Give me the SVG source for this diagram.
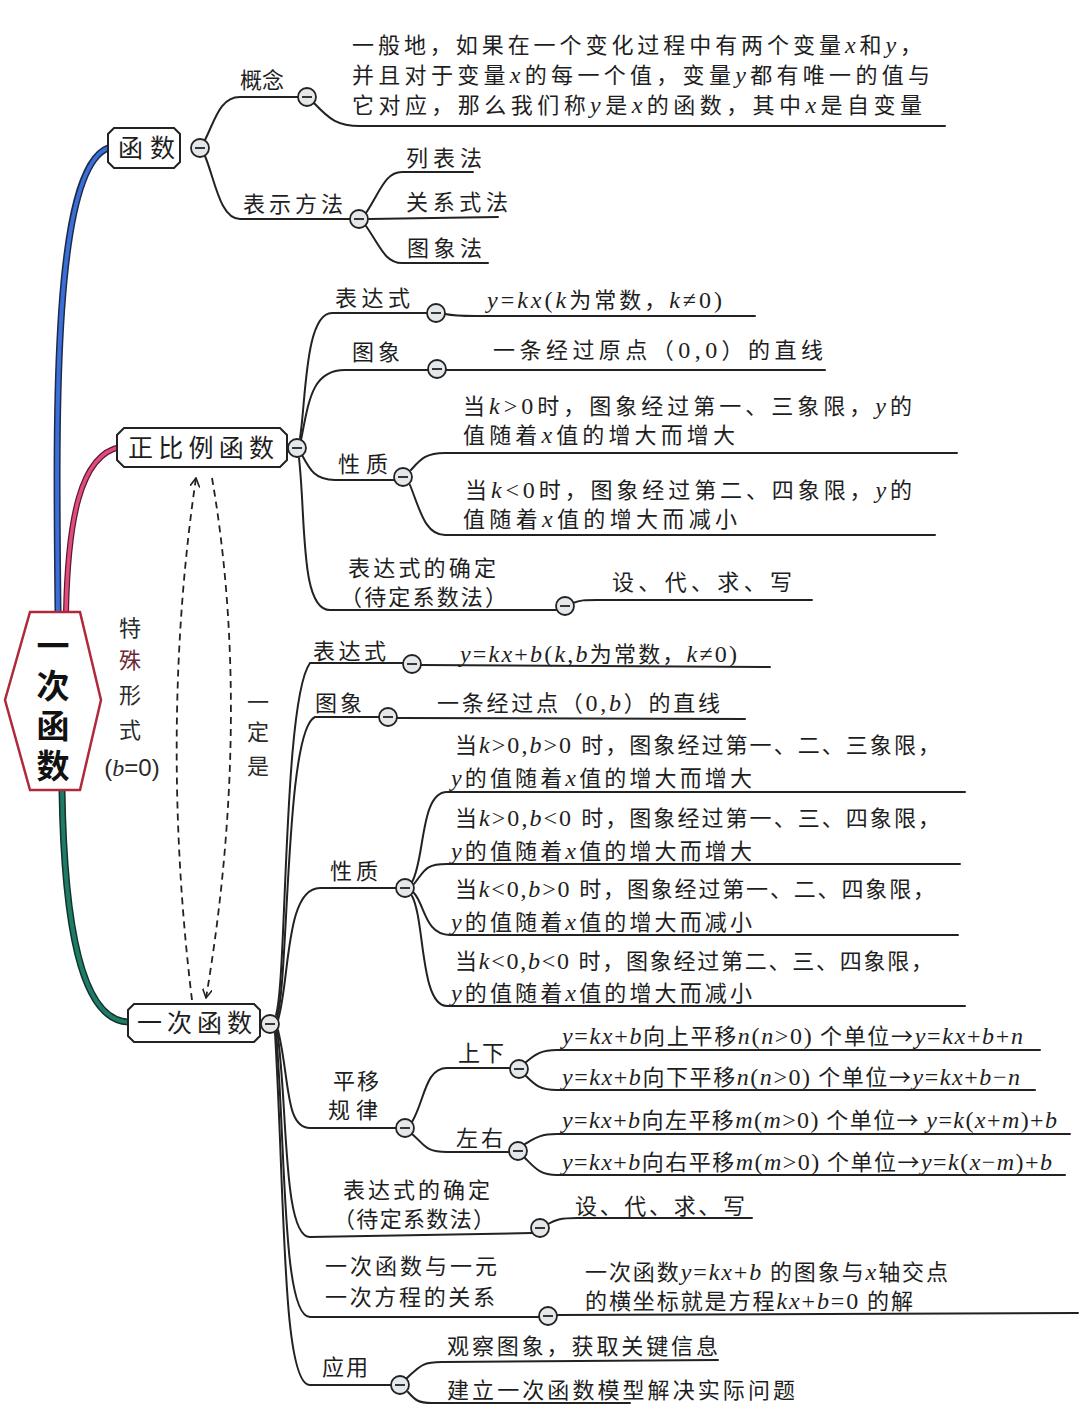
<svg xmlns="http://www.w3.org/2000/svg" width="1080" height="1407" viewBox="0 0 1080 1407">
<defs>
<style>
.t{font-family:"Noto Sans CJK SC","Noto Sans",sans-serif;font-size:22px;fill:#1e1e1e}
.n{font-family:"Noto Sans CJK SC","Noto Sans",sans-serif;font-size:25px;fill:#1e1e1e}
.i{font-family:"Liberation Serif",serif;font-style:italic;font-size:24px}
.r{font-family:"Liberation Serif",serif;font-size:24px}
.ln{fill:none;stroke:#222;stroke-width:2;stroke-linecap:round}
.box{fill:#fff;stroke:#222;stroke-width:2}
.cc{fill:#e4e8eb;stroke:#222;stroke-width:1.8}
.dash{fill:none;stroke:#222;stroke-width:1.8;stroke-dasharray:7 5}
</style>
<marker id="ah" viewBox="0 0 10 10" refX="9" refY="5" markerWidth="10" markerHeight="10" markerUnits="userSpaceOnUse" orient="auto">
<path d="M0,0 L9,5 L0,10" fill="none" stroke="#222" stroke-width="1.6"/>
</marker>
<g id="cmin"><circle class="cc" cx="0" cy="0" r="9"/><line x1="-5" y1="0" x2="5" y2="0" stroke="#222" stroke-width="1.8"/></g>
</defs>
<rect width="1080" height="1407" fill="#fff"/>

<g id="connectors">
<path d="M58,612 C56,420 52,170 108,148" fill="none" stroke="#1e2a4a" stroke-width="7"/>
<path d="M58,612 C56,420 52,170 108,148" fill="none" stroke="#3a6fd8" stroke-width="4"/>
<path d="M66,612 C68,520 80,455 120,447" fill="none" stroke="#5a1a30" stroke-width="6"/>
<path d="M66,612 C68,520 80,455 120,447" fill="none" stroke="#e24a82" stroke-width="3.5"/>
<path d="M62,790 C64,920 80,1020 128,1022" fill="none" stroke="#12332c" stroke-width="7"/>
<path d="M62,790 C64,920 80,1020 128,1022" fill="none" stroke="#1f7a66" stroke-width="4"/>

<path class="ln" d="M205,140 C215,120 220,97 240,97 L298,97"/>
<path class="ln" d="M314,103 C330,120 338,126 360,126 L945,126"/>
<path class="ln" d="M205,156 C215,180 220,219 240,219 L350,219"/>
<path class="ln" d="M366,213 C380,192 385,172 402,172 L473,172"/>
<path class="ln" d="M369,219 L498,217"/>
<path class="ln" d="M366,226 C380,246 385,263 402,263 L488,263"/>

<path class="ln" d="M300,438 C306,400 305,313 332,313 L427,313"/>
<path class="ln" d="M445,314 C455,316 460,316 475,316 L755,316"/>
<path class="ln" d="M301,440 C309,400 312,370 345,370 L428,370"/>
<path class="ln" d="M446,370 L825,370"/>
<path class="ln" d="M302,455 C310,470 315,480 335,480 L394,480"/>
<path class="ln" d="M411,470 C420,460 425,453 445,453 L957,453"/>
<path class="ln" d="M410,485 C420,510 425,535 445,535 L935,535"/>
<path class="ln" d="M299,458 C306,520 300,610 330,610 L556,610"/>
<path class="ln" d="M573,603 C580,600 585,600 597,600 L812,600"/>

<path class="ln" d="M276,1015 C287,980 283,700 310,663 L403,663"/>
<path class="ln" d="M421,665 L770,667"/>
<path class="ln" d="M277,1017 C289,980 285,730 315,717 L379,717"/>
<path class="ln" d="M397,718 L745,719"/>
<path class="ln" d="M278,1020 C290,980 285,888 320,888 L396,888"/>
<path class="ln" d="M412,882 C425,860 420,792 447,792 L965,792"/>
<path class="ln" d="M414,884 C425,870 425,864 447,864 L960,864"/>
<path class="ln" d="M414,893 C425,905 425,935 450,935 L958,935"/>
<path class="ln" d="M412,896 C425,920 420,1006 447,1006 L965,1006"/>
<path class="ln" d="M278,1030 C290,1080 285,1128 310,1128 L396,1128"/>
<path class="ln" d="M412,1122 C425,1100 425,1068 447,1068 L510,1068"/>
<path class="ln" d="M412,1134 C425,1145 425,1152 447,1152 L509,1152"/>
<path class="ln" d="M526,1062 C535,1055 540,1050 557,1050 L1040,1050"/>
<path class="ln" d="M526,1076 C535,1085 540,1090 557,1090 L1035,1090"/>
<path class="ln" d="M525,1144 C535,1138 540,1134 557,1134 L1070,1134"/>
<path class="ln" d="M525,1158 C535,1168 540,1175 557,1175 L1065,1175"/>
<path class="ln" d="M277,1030 C288,1100 282,1237 310,1237 L532,1233"/>
<path class="ln" d="M548,1224 C555,1220 560,1218 577,1218 L752,1218"/>
<path class="ln" d="M276,1032 C286,1150 282,1317 310,1317 L539,1317"/>
<path class="ln" d="M557,1315 L1078,1313"/>
<path class="ln" d="M275,1033 C285,1200 282,1385 310,1385 L391,1385"/>
<path class="ln" d="M407,1378 C420,1366 422,1362 442,1362 L718,1360"/>
<path class="ln" d="M408,1392 C415,1400 418,1403 432,1403 L630,1403"/>

<path class="dash" d="M192,1000 C170,820 172,640 196,478" marker-end="url(#ah)"/>
<path class="dash" d="M212,478 C240,640 236,820 206,998" marker-end="url(#ah)"/>
</g>

<g id="collapse">
<use href="#cmin" x="200" y="148"/>
<use href="#cmin" x="307" y="97"/>
<use href="#cmin" x="359" y="219"/>
<use href="#cmin" x="297" y="448"/>
<use href="#cmin" x="436" y="313"/>
<use href="#cmin" x="437" y="369"/>
<use href="#cmin" x="403" y="477"/>
<use href="#cmin" x="565" y="606"/>
<use href="#cmin" x="270" y="1024"/>
<use href="#cmin" x="412" y="664"/>
<use href="#cmin" x="388" y="717"/>
<use href="#cmin" x="405" y="888"/>
<use href="#cmin" x="405" y="1128"/>
<use href="#cmin" x="519" y="1069"/>
<use href="#cmin" x="518" y="1151"/>
<use href="#cmin" x="540" y="1228"/>
<use href="#cmin" x="548" y="1316"/>
<use href="#cmin" x="400" y="1385"/>
</g>

<g id="root">
<polygon points="30,612 80,612 101,700 80,790 30,790 5,700" fill="#fff" stroke="#b0283c" stroke-width="2.5"/>
<text x="53" y="629" writing-mode="tb" style="writing-mode:vertical-rl" font-family="'Noto Sans CJK SC',sans-serif" font-size="33" font-weight="bold" fill="#111" letter-spacing="7">一次函数</text>
</g>

<g id="n-hanshu">
<polygon class="box" points="114,128 174,128 180,134 180,162 174,168 114,168 108,162 108,134"/>
<text class="n" x="118" y="157" textLength="57">函数</text>
</g>
<g id="n-zhengbili">
<polygon class="box" points="124,428 280,428 287,435 287,460 280,467 124,467 117,460 117,435"/>
<text class="n" x="128" y="457" textLength="146">正比例函数</text>
</g>
<g id="n-yici">
<polygon class="box" points="134,1004 254,1004 260,1010 260,1036 254,1042 134,1042 128,1036 128,1010"/>
<text class="n" x="137" y="1032" textLength="115">一次函数</text>
</g>

<g id="labels-hanshu">
<text class="t" x="240" y="88">概念</text>
<text class="t" x="352" y="53" textLength="570">一般地，如果在一个变化过程中有两个变量<tspan class="i">x</tspan>和<tspan class="i">y</tspan>，</text>
<text class="t" x="352" y="83" textLength="578">并且对于变量<tspan class="i">x</tspan>的每一个值，变量<tspan class="i">y</tspan>都有唯一的值与</text>
<text class="t" x="352" y="113" textLength="570">它对应，那么我们称<tspan class="i">y</tspan>是<tspan class="i">x</tspan>的函数，其中<tspan class="i">x</tspan>是自变量</text>
<text class="t" x="243" y="212" textLength="100">表示方法</text>
<text class="t" x="406" y="166" textLength="76">列表法</text>
<text class="t" x="406" y="210" textLength="102">关系式法</text>
<text class="t" x="407" y="256" textLength="75">图象法</text>
</g>

<g id="labels-zhengbili">
<text class="t" x="335" y="306" textLength="75">表达式</text>
<text class="t" x="487" y="308" textLength="235"><tspan class="i">y</tspan><tspan class="r">=</tspan><tspan class="i">kx</tspan><tspan class="r">(</tspan><tspan class="i">k</tspan>为常数，<tspan class="i">k</tspan><tspan class="r">≠0)</tspan></text>
<text class="t" x="352" y="360" textLength="48">图象</text>
<text class="t" x="493" y="358" textLength="330">一条经过原点（<tspan class="r">0,0</tspan>）的直线</text>
<text class="t" x="463" y="414" textLength="449">当<tspan class="i">k</tspan><tspan class="r">&gt;0</tspan>时，图象经过第一、三象限，<tspan class="i">y</tspan>的</text>
<text class="t" x="463" y="443" textLength="272">值随着<tspan class="i">x</tspan>值的增大而增大</text>
<text class="t" x="338" y="472" textLength="50">性质</text>
<text class="t" x="465" y="498" textLength="447">当<tspan class="i">k</tspan><tspan class="r">&lt;0</tspan>时，图象经过第二、四象限，<tspan class="i">y</tspan>的</text>
<text class="t" x="463" y="527" textLength="274">值随着<tspan class="i">x</tspan>值的增大而减小</text>
<text class="t" x="348" y="576" textLength="148">表达式的确定</text>
<text class="t" x="340" y="605" textLength="167">（待定系数法）</text>
<text class="t" x="612" y="590" textLength="180">设、代、求、写</text>
</g>

<g id="labels-side" font-family="'Noto Sans CJK SC',sans-serif" font-size="22" fill="#2a2a2a" text-anchor="middle">
<text x="130" y="636">特</text>
<text x="130" y="668" fill="#6a2a35">殊</text>
<text x="130" y="703">形</text>
<text x="130" y="738">式</text>
<text x="132" y="776" font-family="'Liberation Sans',sans-serif" font-size="24">(<tspan font-family="'Liberation Serif',serif" font-style="italic">b</tspan>=0)</text>
<text x="258" y="710">一</text>
<text x="258" y="740">定</text>
<text x="258" y="774">是</text>
</g>

<g id="labels-yici">
<text class="t" x="313" y="659" textLength="73">表达式</text>
<text class="t" x="460" y="662" textLength="277"><tspan class="i">y</tspan><tspan class="r">=</tspan><tspan class="i">kx</tspan><tspan class="r">+</tspan><tspan class="i">b</tspan><tspan class="r">(</tspan><tspan class="i">k</tspan><tspan class="r">,</tspan><tspan class="i">b</tspan>为常数，<tspan class="i">k</tspan><tspan class="r">≠0)</tspan></text>
<text class="t" x="315" y="711" textLength="47">图象</text>
<text class="t" x="437" y="711" textLength="283">一条经过点（<tspan class="r">0,</tspan><tspan class="i">b</tspan>）的直线</text>

<text class="t" x="455" y="753" textLength="485">当<tspan class="i">k</tspan><tspan class="r">&gt;0,</tspan><tspan class="i">b</tspan><tspan class="r">&gt;0 </tspan>时，图象经过第一、二、三象限，</text>
<text class="t" x="451" y="786" textLength="301"><tspan class="i">y</tspan>的值随着<tspan class="i">x</tspan>值的增大而增大</text>
<text class="t" x="455" y="826" textLength="485">当<tspan class="i">k</tspan><tspan class="r">&gt;0,</tspan><tspan class="i">b</tspan><tspan class="r">&lt;0 </tspan>时，图象经过第一、三、四象限，</text>
<text class="t" x="451" y="859" textLength="301"><tspan class="i">y</tspan>的值随着<tspan class="i">x</tspan>值的增大而增大</text>
<text class="t" x="455" y="897" textLength="480">当<tspan class="i">k</tspan><tspan class="r">&lt;0,</tspan><tspan class="i">b</tspan><tspan class="r">&gt;0 </tspan>时，图象经过第一、二、四象限，</text>
<text class="t" x="451" y="930" textLength="301"><tspan class="i">y</tspan>的值随着<tspan class="i">x</tspan>值的增大而减小</text>
<text class="t" x="455" y="969" textLength="478">当<tspan class="i">k</tspan><tspan class="r">&lt;0,</tspan><tspan class="i">b</tspan><tspan class="r">&lt;0 </tspan>时，图象经过第二、三、四象限，</text>
<text class="t" x="451" y="1001" textLength="301"><tspan class="i">y</tspan>的值随着<tspan class="i">x</tspan>值的增大而减小</text>
<text class="t" x="330" y="879" textLength="48">性质</text>

<text class="t" x="333" y="1089" textLength="46">平移</text>
<text class="t" x="328" y="1118" textLength="50">规律</text>
<text class="t" x="458" y="1061" textLength="46">上下</text>
<text class="t" x="456" y="1146" textLength="47">左右</text>
<text class="t" x="562" y="1044" textLength="461"><tspan class="i">y</tspan><tspan class="r">=</tspan><tspan class="i">kx</tspan><tspan class="r">+</tspan><tspan class="i">b</tspan>向上平移<tspan class="i">n</tspan><tspan class="r">(</tspan><tspan class="i">n</tspan><tspan class="r">&gt;0)</tspan> 个单位→<tspan class="i">y</tspan><tspan class="r">=</tspan><tspan class="i">kx</tspan><tspan class="r">+</tspan><tspan class="i">b</tspan><tspan class="r">+</tspan><tspan class="i">n</tspan></text>
<text class="t" x="562" y="1085" textLength="458"><tspan class="i">y</tspan><tspan class="r">=</tspan><tspan class="i">kx</tspan><tspan class="r">+</tspan><tspan class="i">b</tspan>向下平移<tspan class="i">n</tspan><tspan class="r">(</tspan><tspan class="i">n</tspan><tspan class="r">&gt;0)</tspan> 个单位→<tspan class="i">y</tspan><tspan class="r">=</tspan><tspan class="i">kx</tspan><tspan class="r">+</tspan><tspan class="i">b</tspan><tspan class="r">−</tspan><tspan class="i">n</tspan></text>
<text class="t" x="562" y="1128" textLength="495"><tspan class="i">y</tspan><tspan class="r">=</tspan><tspan class="i">kx</tspan><tspan class="r">+</tspan><tspan class="i">b</tspan>向左平移<tspan class="i">m</tspan><tspan class="r">(</tspan><tspan class="i">m</tspan><tspan class="r">&gt;0)</tspan> 个单位→ <tspan class="i">y</tspan><tspan class="r">=</tspan><tspan class="i">k</tspan><tspan class="r">(</tspan><tspan class="i">x</tspan><tspan class="r">+</tspan><tspan class="i">m</tspan><tspan class="r">)+</tspan><tspan class="i">b</tspan></text>
<text class="t" x="562" y="1170" textLength="490"><tspan class="i">y</tspan><tspan class="r">=</tspan><tspan class="i">kx</tspan><tspan class="r">+</tspan><tspan class="i">b</tspan>向右平移<tspan class="i">m</tspan><tspan class="r">(</tspan><tspan class="i">m</tspan><tspan class="r">&gt;0)</tspan> 个单位→<tspan class="i">y</tspan><tspan class="r">=</tspan><tspan class="i">k</tspan><tspan class="r">(</tspan><tspan class="i">x</tspan><tspan class="r">−</tspan><tspan class="i">m</tspan><tspan class="r">)+</tspan><tspan class="i">b</tspan></text>

<text class="t" x="343" y="1198" textLength="147">表达式的确定</text>
<text class="t" x="333" y="1227" textLength="162">（待定系数法）</text>
<text class="t" x="575" y="1214" textLength="170">设、代、求、写</text>

<text class="t" x="325" y="1274" textLength="172">一次函数与一元</text>
<text class="t" x="325" y="1305" textLength="170">一次方程的关系</text>
<text class="t" x="585" y="1280" textLength="363">一次函数<tspan class="i">y</tspan><tspan class="r">=</tspan><tspan class="i">kx</tspan><tspan class="r">+</tspan><tspan class="i">b</tspan> 的图象与<tspan class="i">x</tspan>轴交点</text>
<text class="t" x="585" y="1309" textLength="328">的横坐标就是方程<tspan class="i">kx</tspan><tspan class="r">+</tspan><tspan class="i">b</tspan><tspan class="r">=0</tspan> 的解</text>

<text class="t" x="322" y="1375" textLength="46">应用</text>
<text class="t" x="447" y="1354" textLength="271">观察图象，获取关键信息</text>
<text class="t" x="447" y="1398" textLength="348">建立一次函数模型解决实际问题</text>
</g>
</svg>
